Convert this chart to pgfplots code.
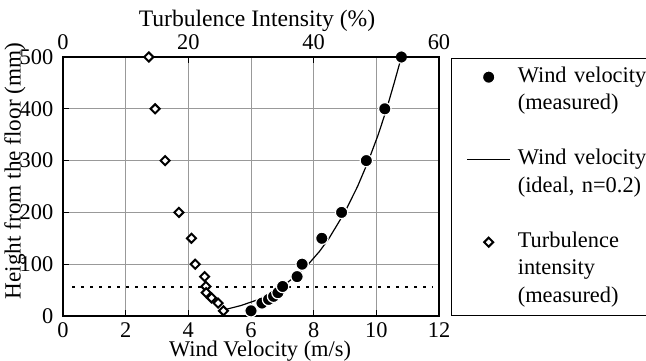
\documentclass[border=0pt]{standalone}
\usepackage{fontspec}
\setmainfont{Liberation Serif}
\usepackage{pgfplots}
\pgfplotsset{compat=1.18}
\begin{document}
\begin{tikzpicture}[font=\fontsize{11.2}{14}\selectfont]
\begin{axis}[name=main, scale only axis, width=188pt, height=129.5pt,
  xmin=0, xmax=12, ymin=0, ymax=500,
  xtick={0,2,...,12}, ytick={0,100,...,500},
  grid=major, grid style={black!40, line width=0.5pt},
  axis line style={line width=1pt},
  tick align=inside, xtick pos=bottom, ytick pos=left,
  major tick length=3pt, tick style={black, line width=0.6pt},
  /pgf/number format/assume math mode=true,
  yticklabel style={xshift=-1.3pt},
  xlabel={Wind Velocity (m/s)}, ylabel={Height from the floor (mm)},
  xlabel style={at={(axis description cs:0.524,-0.157)}, anchor=base, inner sep=1pt},
  ylabel style={at={(axis description cs:-0.128,0.56)}, anchor=center, font=\fontsize{11.6}{14}\selectfont},
  clip=false,
  legend cell align=left,
  legend image code/.code={\draw[mark repeat=2,mark phase=2,#1] plot coordinates {(0pt,0pt) (10.75pt,0pt) (21.5pt,0pt)};},
  legend style={at={(rel axis cs:1,1)}, anchor=north west, xshift=6pt, yshift=-0.5pt,
    draw=black, line width=0.6pt, fill=white, inner xsep=7.5pt, inner ysep=2.4pt,
    row sep=0pt, column sep=3.5pt,
    nodes={inner sep=0pt, text height=9.5pt, text depth=4.25pt, text width=75pt, align=left}},
]
% dotted reference line
\addplot[forget plot, black, line width=0.6pt, dash pattern=on 1.4pt off 3.1pt] coordinates {(0.3,56) (11.8,56)};
% ideal profile (n = 0.2)
\addplot[forget plot, black, line width=0.6pt] coordinates {
(5.21,13) (5.67,20) (6.15,30) (6.52,40) (6.82,50) (7.07,60) (7.48,80) (7.83,100)
(8.19,125) (8.49,150) (8.99,200) (9.40,250) (9.75,300) (10.06,350) (10.33,400)
(10.57,450) (10.80,500)};
% measured wind velocity
\addplot[only marks, mark=*, mark size=3.1pt, mark options={fill=black, draw=white, line width=0.6pt}] coordinates {
(6.00,10) (6.35,25) (6.56,32) (6.72,38) (6.86,45) (7.01,57) (7.47,76) (7.63,100)
(8.26,150) (8.89,200) (9.68,300) (10.27,400) (10.80,500)};
\addlegendentry{Wind velocity}
\addlegendimage{empty legend}\addlegendentry{(measured)}
\addlegendimage{empty legend}\addlegendentry{}
\addlegendimage{black, line width=0.6pt}\addlegendentry{Wind velocity}
\addlegendimage{empty legend}\addlegendentry{(ideal, n=0.2)}
\addlegendimage{empty legend}\addlegendentry{}
\addlegendimage{only marks, mark=square*, mark size=1.6pt, mark options={rotate=45, fill=white, draw=black, line width=1pt}}\addlegendentry{Turbulence}
\addlegendimage{empty legend}\addlegendentry{intensity}
\addlegendimage{empty legend}\addlegendentry{(measured)}
\end{axis}
\begin{axis}[scale only axis, width=188pt, height=129.5pt,
  xmin=0, xmax=60, ymin=0, ymax=500,
  axis x line*=top, axis y line=none,
  xtick={0,20,40,60},
  axis line style={line width=1pt},
  tick align=inside, major tick length=3pt, tick style={black, line width=0.6pt},
  /pgf/number format/assume math mode=true,
  xlabel={Turbulence Intensity (\%)},
  xlabel style={at={(axis description cs:0.516,1.118)}, anchor=base, font=\fontsize{11.8}{14}\selectfont},
  clip=false,
]
\addplot[only marks, mark=square*, mark size=1.6pt, mark options={rotate=45, fill=white, draw=black, line width=1pt}] coordinates {
(13.7,500) (14.7,400) (16.3,300) (18.5,200) (20.5,150) (21.1,100) (22.6,76)
(22.8,57) (22.85,45) (23.7,35) (24.75,25) (25.6,10)};
\end{axis}
\pgfresetboundingbox
\path[use as bounding box] ([shift={(-31.5pt,-22.5pt)}]main.south west) rectangle ([shift={(103.5pt,28.5pt)}]main.north east);
\end{tikzpicture}
\end{document}
